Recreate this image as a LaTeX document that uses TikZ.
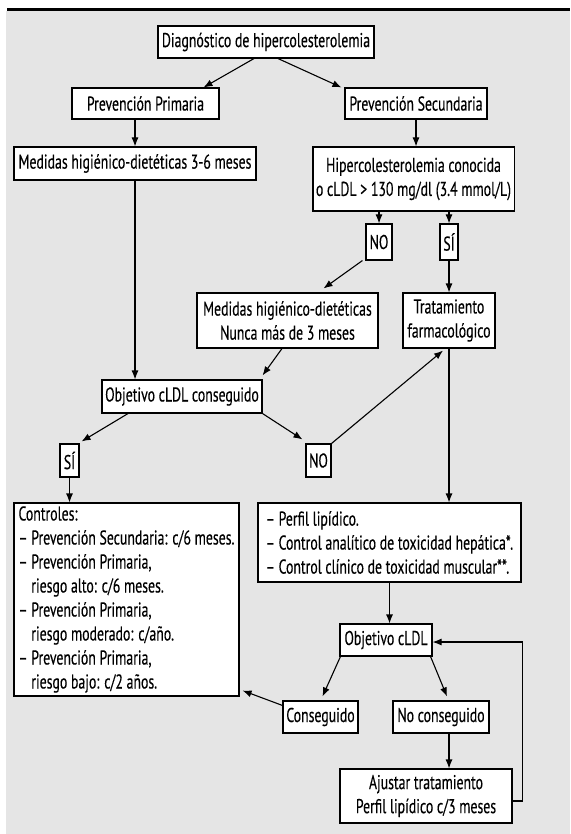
\documentclass[tikz,border=0pt]{standalone}
\usepackage{fontspec}
\setmainfont{PT Sans}[FakeStretch=0.69,FakeBold=0.25]
\usetikzlibrary{arrows.meta,calc}
\definecolor{panel}{RGB}{229,229,229}
\tikzset{
  box/.style={draw=black, fill=white, line width=1.1pt, inner sep=3pt,
    align=center, font=\fontsize{20}{24}\selectfont},
  listbox/.style={box, align=left, inner sep=3pt},
  arr/.style={line width=1.1pt, -{Latex[length=9pt,width=7pt]}},
}
\begin{document}
\begin{tikzpicture}[x=1pt,y=-1pt]
\useasboundingbox (0,0) rectangle (570,834);
% panel and top rule
\fill[panel] (6,11) rectangle (570,834);
\fill[black] (7,8) rectangle (570,11);

% boxes
\node[box, minimum width=216pt, minimum height=32pt] (diag) at (266,42) {Diagnóstico de hipercolesterolemia};
\node[box, minimum width=147pt, minimum height=31pt] (pp) at (145.5,103.5) {Prevención Primaria};
\node[box, minimum width=142pt, minimum height=31pt] (ps) at (416,103.5) {Prevención Secundaria};
\node[box, minimum width=242pt, minimum height=33pt] (med1) at (135,163.5) {Medidas higiénico-dietéticas 3-6 meses};
\node[box, minimum width=197pt, minimum height=64pt] (hip) at (413.5,179) {Hipercolesterolemia conocida\\o cLDL > 130 mg/dl (3.4 mmol/L)};
\node[box, inner sep=1pt, minimum width=26pt, minimum height=36pt] (no1) at (379,242) {NO};
\node[box, inner sep=1pt, minimum width=18pt, minimum height=36pt] (si1) at (449,242) {SÍ};
\node[box, minimum width=181pt, minimum height=55pt] (med2) at (287.5,320.5) {Medidas higiénico-dietéticas\\Nunca más de 3 meses};
\node[box, minimum width=92pt, minimum height=55pt] (trat) at (449,320.5) {Tratamiento\\farmacológico};
\node[box, minimum width=160pt, minimum height=33pt] (obj1) at (182,396.5) {Objetivo cLDL conseguido};
\node[box, inner sep=1pt, minimum width=19pt, minimum height=33pt] (si2) at (69.5,460.5) {SÍ};
\node[box, inner sep=1pt, minimum width=25pt, minimum height=33pt] (no2) at (318.5,460.5) {NO};
\node[listbox, minimum width=225pt, minimum height=193pt] (ctrl) at (126.5,599.5) {Controles:\\
– Prevención Secundaria: c/6 meses.\\
– Prevención Primaria,\\
\phantom{– }riesgo alto: c/6 meses.\\
– Prevención Primaria,\\
\phantom{– }riesgo moderado: c/año.\\
– Prevención Primaria,\\
\phantom{– }riesgo bajo: c/2 años.};
\node[listbox, minimum width=263pt, minimum height=79pt] (perf) at (389.5,542.5) {– Perfil lipídico.\\
– Control analítico de toxicidad hepática*.\\
– Control clínico de toxicidad muscular**.};
\node[box, minimum width=92pt, minimum height=32pt] (obj2) at (386,640) {Objetivo cLDL};
\node[box, minimum width=75pt, minimum height=32pt] (cons) at (320.5,717) {Conseguido};
\node[box, minimum width=96pt, minimum height=32pt] (nocons) at (441,717) {No conseguido};
\node[box, minimum width=172pt, minimum height=54pt] (ajus) at (426,796) {Ajustar tratamiento\\Perfil lipídico c/3 meses};

% connectors
\draw[arr] ([xshift=-12pt]diag.south) -- ([xshift=58pt]pp.north);
\draw[arr] ([xshift=12pt]diag.south) -- ([xshift=-3pt]ps.north west);
\draw[arr] (pp.south -| med1.north) -- (med1.north);
\draw[arr] (ps.south) -- (ps.south |- hip.north);
\draw[arr] (no1.north |- hip.south) -- (no1.north);
\draw[arr] (si1.north |- hip.south) -- (si1.north);
\draw[arr] ([xshift=-3pt]no1.south west) -- ([xshift=36pt,yshift=4pt]med2.north);
\draw[arr] (si1.south) -- (si1.south |- trat.north);
\draw[arr] ([xshift=-5.5pt]med2.south) -- ([yshift=4pt]obj1.north east);
\draw[arr] (med1.south) -- (med1.south |- obj1.north);
\draw[arr] ([xshift=-54pt]obj1.south) -- ([xshift=2pt,yshift=2pt]si2.north east);
\draw[arr] (obj1.south east) -- ([xshift=-3pt,yshift=4pt]no2.north west);
\draw[arr] (no2.north east) -- ([xshift=-6pt,yshift=-2pt]trat.south);
\draw[arr] (trat.south) -- (trat.south |- perf.north);
\draw[arr] (si2.south) -- (si2.south |- ctrl.north);
\draw[arr] (perf.south) -- (perf.south |- obj2.north);
\draw[arr] ([xshift=1pt]obj2.south west) -- ([xshift=2pt,yshift=4pt]cons.north);
\draw[arr] ([xshift=-2pt]obj2.south east) -- ([xshift=6pt,yshift=4pt]nocons.north);
\draw[arr] ([yshift=-5pt]cons.north west) -- ([xshift=3pt,yshift=6pt]ctrl.south east);
\draw[arr] ([xshift=8pt]nocons.south) -- ([xshift=8pt]nocons.south |- ajus.north);
\draw[arr] ([yshift=-5pt]ajus.east) -- ++(10pt,0) |- ([yshift=-2pt]obj2.east);
\end{tikzpicture}
\end{document}
